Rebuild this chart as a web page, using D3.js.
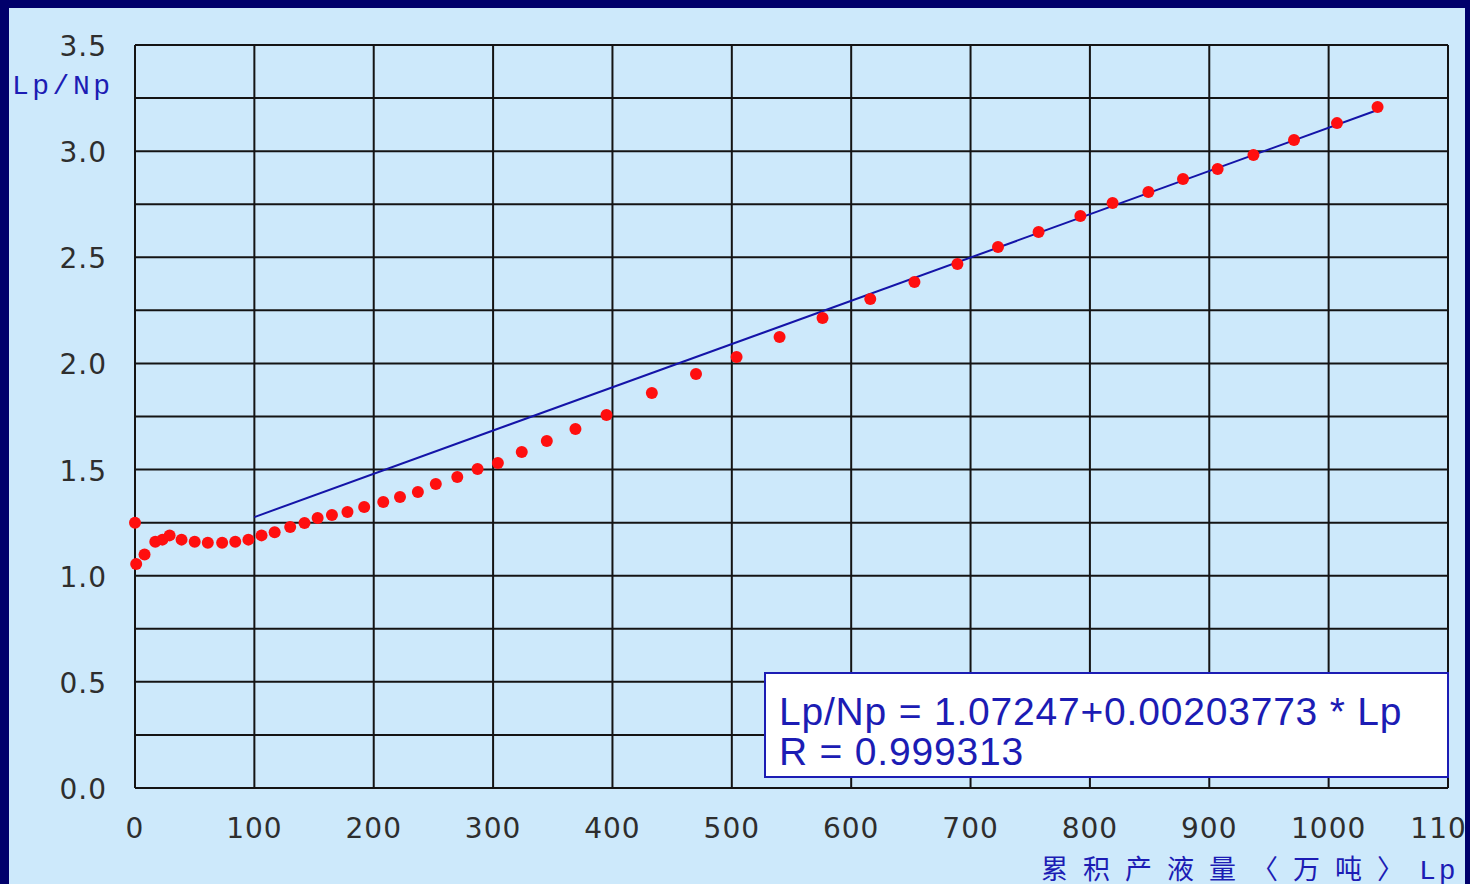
<!DOCTYPE html>
<html>
<head>
<meta charset="utf-8">
<script src="https://cdn.jsdelivr.net/npm/d3@7"></script>
<style>
  html, body { margin: 0; padding: 0; background: #00006b; overflow: hidden; }
  svg { display: block; }
</style>
</head>
<body>
<svg id="chart" width="1470" height="884"></svg>
<script>
// Cumulative liquid production Lp (10^4 t) and the ratio Lp/Np
const lp = [0, 1, 8, 17, 23, 29, 39, 50, 61, 73, 84, 95, 106, 117, 130, 142, 153, 165, 178, 192,
  208, 222, 237, 252, 270, 287, 304, 324, 345, 369, 395, 433, 470, 504, 540, 576, 616, 653, 689,
  723, 757, 792, 819, 849, 878, 907, 937, 971, 1007, 1041];
const ratio = [1.25, 1.055, 1.10, 1.16, 1.17, 1.19, 1.17, 1.16, 1.155, 1.155, 1.16, 1.17, 1.19,
  1.205, 1.23, 1.248, 1.272, 1.286, 1.30, 1.324, 1.347, 1.371, 1.394, 1.432, 1.465, 1.503, 1.531,
  1.583, 1.635, 1.691, 1.757, 1.861, 1.95, 2.03, 2.124, 2.214, 2.303, 2.384, 2.468, 2.548, 2.619,
  2.695, 2.756, 2.807, 2.869, 2.916, 2.982, 3.052, 3.132, 3.208];

// Regression Lp/Np = a + b * Lp, fitted on the straight segment
const fitA = 1.07247;
const fitB = 0.00203773;
const fitR = 0.999313;
const fitStart = 100;

const xTicks = [0, 100, 200, 300, 400, 500, 600, 700, 800, 900, 1000, 1100];
const yTicks = [0.0, 0.5, 1.0, 1.5, 2.0, 2.5, 3.0, 3.5];
const yGrid = d3.range(0, 3.5001, 0.25);

const svg = d3.select("#chart");
const W = 1470, H = 884;

// light panel inside the dark frame
svg.append("rect").attr("x", 0).attr("y", 0).attr("width", W).attr("height", H).attr("fill", "#00006b");
svg.append("rect").attr("x", 9).attr("y", 8).attr("width", W - 9).attr("height", H - 8).attr("fill", "#cde9fb");

const x = d3.scaleLinear().domain([0, 1100]).range([135, 1448]);
const y = d3.scaleLinear().domain([0, 3.5]).range([788, 45]);

// grid
const grid = svg.append("g").attr("stroke", "#141414").attr("stroke-width", 2);
grid.selectAll("line.h").data(yGrid).join("line")
  .attr("x1", x(0)).attr("x2", x(1100))
  .attr("y1", d => y(d)).attr("y2", d => y(d));
grid.selectAll("line.v").data(xTicks).join("line")
  .attr("y1", y(0)).attr("y2", y(3.5))
  .attr("x1", d => x(d)).attr("x2", d => x(d));

// axis tick labels
const tickFont = "'DejaVu Sans', sans-serif";
svg.append("g").selectAll("text").data(yTicks).join("text")
  .attr("x", 107).attr("y", d => y(d) + 11)
  .attr("text-anchor", "end")
  .attr("font-family", tickFont).attr("font-size", 28).attr("letter-spacing", 1)
  .attr("fill", "#2e2e2e")
  .text(d => d3.format(".1f")(d));
svg.append("g").selectAll("text").data(xTicks).join("text")
  .attr("x", d => x(d)).attr("y", 838)
  .attr("text-anchor", "middle")
  .attr("font-family", tickFont).attr("font-size", 28).attr("letter-spacing", 1)
  .attr("fill", "#2e2e2e")
  .text(d => d);

// axis titles
svg.append("text")
  .attr("x", 12).attr("y", 94)
  .attr("font-family", "'Liberation Mono', monospace").attr("font-size", 28)
  .attr("letter-spacing", 3.5).attr("fill", "#1c1cb4")
  .text("Lp/Np");

const xt = svg.append("text").attr("x", 1041).attr("y", 879).attr("fill", "#1c1cb4");
xt.append("tspan")
  .attr("font-family", "'Noto Sans CJK SC', sans-serif").attr("font-size", 27)
  .attr("letter-spacing", 15)
  .text("累积产液量〈万吨〉");
xt.append("tspan")
  .attr("font-family", "'Liberation Mono', monospace").attr("font-size", 28)
  .attr("letter-spacing", 3)
  .text("Lp");

// fitted straight line
const fitX = [fitStart, d3.max(lp)];
svg.append("path")
  .datum(fitX)
  .attr("fill", "none").attr("stroke", "#1414a8").attr("stroke-width", 2)
  .attr("d", d3.line().x(d => x(d)).y(d => y(fitA + fitB * d)));

// observed points
svg.append("g").selectAll("circle").data(lp.map((v, i) => [v, ratio[i]])).join("circle")
  .attr("cx", d => x(d[0])).attr("cy", d => y(d[1]))
  .attr("r", 6).attr("fill", "#ff0f0f");

// regression annotation
const box = svg.append("g");
box.append("rect")
  .attr("x", 765).attr("y", 673).attr("width", 683).attr("height", 104)
  .attr("fill", "#ffffff").attr("stroke", "#1c1cb4").attr("stroke-width", 2);
box.append("text")
  .attr("x", 779).attr("y", 725)
  .attr("font-family", "'Liberation Sans', Arial, sans-serif").attr("font-size", 39)
  .attr("letter-spacing", 0.8)
  .attr("fill", "#1c1cb4")
  .text(`Lp/Np = ${fitA}+${fitB} * Lp`);
box.append("text")
  .attr("x", 779).attr("y", 765)
  .attr("font-family", "'Liberation Sans', Arial, sans-serif").attr("font-size", 39)
  .attr("letter-spacing", 0.8)
  .attr("fill", "#1c1cb4")
  .text(`R = ${fitR}`);

// dark frame edge on the right, drawn last so it clips the last tick label
svg.append("rect").attr("x", 1465).attr("y", 0).attr("width", 5).attr("height", H).attr("fill", "#00006b");
</script>
</body>
</html>
